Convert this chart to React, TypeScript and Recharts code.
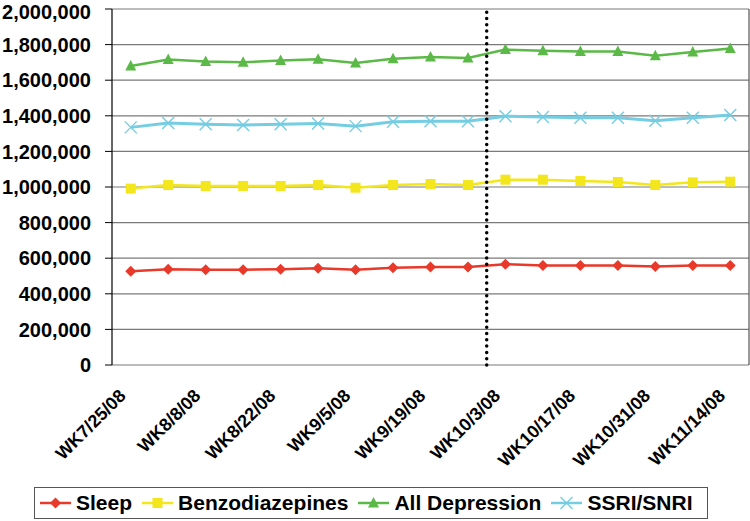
import React from "react";
import {
  LineChart,
  Line,
  XAxis,
  YAxis,
  CartesianGrid,
  ReferenceLine,
  Legend,
} from "recharts";

const weeks = [
  "WK7/25/08", "WK8/1/08", "WK8/8/08", "WK8/15/08", "WK8/22/08", "WK8/29/08",
  "WK9/5/08", "WK9/12/08", "WK9/19/08", "WK9/26/08", "WK10/3/08", "WK10/10/08",
  "WK10/17/08", "WK10/24/08", "WK10/31/08", "WK11/7/08", "WK11/14/08",
];

const sleep = [527000, 538000, 535000, 535000, 538000, 544000, 535000, 546000, 550000, 550000, 566000, 559000, 559000, 559000, 553000, 559000, 559000];
const benzodiazepines = [991000, 1011000, 1006000, 1006000, 1006000, 1011000, 996000, 1011000, 1017000, 1011000, 1041000, 1041000, 1034000, 1028000, 1011000, 1026000, 1030000];
const allDepression = [1680000, 1716000, 1705000, 1701000, 1710000, 1718000, 1697000, 1720000, 1731000, 1725000, 1772000, 1766000, 1761000, 1761000, 1738000, 1759000, 1778000];
const ssriSnri = [1335000, 1359000, 1353000, 1348000, 1353000, 1357000, 1342000, 1366000, 1370000, 1370000, 1398000, 1393000, 1389000, 1389000, 1372000, 1389000, 1404000];

const yTicks = [0, 200000, 400000, 600000, 800000, 1000000, 1200000, 1400000, 1600000, 1800000, 2000000];
const labelTicks = [0, 2, 4, 6, 8, 10, 12, 14, 16];
const boundaryTicks = weeks.map((_, i) => i - 0.5).concat([weeks.length - 0.5]);
const splitAt = 9.5; // between WK9/26/08 and WK10/3/08

const data = weeks.map((week, i) => ({
  idx: i,
  week,
  sleep: sleep[i],
  benzodiazepines: benzodiazepines[i],
  allDepression: allDepression[i],
  ssriSnri: ssriSnri[i],
}));

const FONT = "'Liberation Sans', Arial, sans-serif";
const RED = "#E8392A";
const YELLOW = "#F4E61C";
const GREEN = "#5BB947";
const CYAN = "#74CDE2";

type Shape = "diamond" | "square" | "triangle" | "x";

function Marker({ cx, cy, shape, color }: { cx: number; cy: number; shape: Shape; color: string }) {
  if (cx == null || cy == null) return null;
  if (shape === "diamond")
    return <polygon points={`${cx},${cy - 5.5} ${cx + 5.5},${cy} ${cx},${cy + 5.5} ${cx - 5.5},${cy}`} fill={color} />;
  if (shape === "square") return <rect x={cx - 5} y={cy - 5} width={10} height={10} fill={color} />;
  if (shape === "triangle")
    return <polygon points={`${cx},${cy - 6} ${cx + 5.5},${cy + 4.5} ${cx - 5.5},${cy + 4.5}`} fill={color} />;
  return (
    <g stroke={color} strokeWidth={1.4}>
      <line x1={cx - 6} y1={cy - 6} x2={cx + 6} y2={cy + 6} />
      <line x1={cx - 6} y1={cy + 6} x2={cx + 6} y2={cy - 6} />
    </g>
  );
}

const dotFor = (shape: Shape, color: string) => (props: any) =>
  <Marker key={`${shape}-${props.index}`} cx={props.cx} cy={props.cy} shape={shape} color={color} />;

const series: { key: string; name: string; color: string; shape: Shape; width: number }[] = [
  { key: "sleep", name: "Sleep", color: RED, shape: "diamond", width: 2.5 },
  { key: "benzodiazepines", name: "Benzodiazepines", color: YELLOW, shape: "square", width: 2.5 },
  { key: "allDepression", name: "All Depression", color: GREEN, shape: "triangle", width: 2.5 },
  { key: "ssriSnri", name: "SSRI/SNRI", color: CYAN, shape: "x", width: 3 },
];

function WeekTick({ x, y, payload }: any) {
  const tx = x - 4;
  const ty = y + 32;
  return (
    <text
      x={tx}
      y={ty}
      transform={`rotate(-45, ${tx}, ${ty})`}
      textAnchor="end"
      fontFamily={FONT}
      fontWeight="bold"
      fontSize={18}
      fill="#000"
    >
      {weeks[payload.value]}
    </text>
  );
}

function LegendBox() {
  return (
    <div
      style={{
        border: "1px solid #555",
        height: 32,
        display: "flex",
        alignItems: "center",
        paddingLeft: 5,
        fontFamily: FONT,
        fontWeight: "bold",
        fontSize: 21,
        background: "#fff",
        boxSizing: "border-box",
      }}
    >
      {series.map((s) => (
        <span key={s.key} style={{ display: "flex", alignItems: "center", marginRight: 10 }}>
          <svg width={31} height={14}>
            <line x1={0} y1={7} x2={31} y2={7} stroke={s.color} strokeWidth={2.5} />
            <Marker cx={15.5} cy={7} shape={s.shape} color={s.color} />
          </svg>
          <span style={{ marginLeft: 5 }}>{s.name}</span>
        </span>
      ))}
    </div>
  );
}

export default function App() {
  return (
    <div style={{ position: "fixed", left: 0, top: 0, background: "#fff" }}>
      <LineChart width={750} height={521} data={data} margin={{ top: 9, right: 1, bottom: 4, left: 0 }}>
        <CartesianGrid vertical={false} stroke="#7a7a7a" strokeWidth={1.2} />
        <YAxis
          type="number"
          domain={[0, 2000000]}
          ticks={yTicks}
          width={112}
          tickSize={7}
          tickMargin={14}
          axisLine={{ stroke: "#000", strokeWidth: 1.2 }}
          tickLine={{ stroke: "#000" }}
          tickFormatter={(v: number) => v.toLocaleString("en-US")}
          tick={{ fill: "#000", fontFamily: FONT, fontWeight: "bold", fontSize: 20 }}
        />
        <XAxis
          xAxisId="bound"
          type="number"
          dataKey="idx"
          domain={[-0.5, weeks.length - 0.5]}
          ticks={boundaryTicks}
          height={0}
          tick={false}
          tickSize={7}
          axisLine={{ stroke: "#555", strokeWidth: 1.2 }}
          tickLine={{ stroke: "#555" }}
        />
        <XAxis
          xAxisId="cat"
          type="number"
          dataKey="idx"
          domain={[-0.5, weeks.length - 0.5]}
          ticks={labelTicks}
          interval={0}
          height={120}
          tickSize={0}
          tickMargin={0}
          axisLine={false}
          tickLine={false}
          tick={<WeekTick />}
        />
        <ReferenceLine xAxisId="bound" x={weeks.length - 0.5} stroke="#555" strokeWidth={1.2} />
        {series.map((s) => (
          <Line
            key={s.key}
            xAxisId="cat"
            dataKey={s.key}
            name={s.name}
            stroke={s.color}
            strokeWidth={s.width}
            dot={dotFor(s.shape, s.color)}
            activeDot={false}
            isAnimationActive={false}
          />
        ))}
        <ReferenceLine
          xAxisId="cat"
          x={splitAt}
          stroke="#000"
          strokeWidth={3.5}
          strokeDasharray="0 6.3"
          strokeLinecap="round"
        />
        <Legend
          verticalAlign="bottom"
          content={<LegendBox />}
          wrapperStyle={{ left: 34, width: 674, top: 487, bottom: "auto" }}
        />
      </LineChart>
    </div>
  );
}
